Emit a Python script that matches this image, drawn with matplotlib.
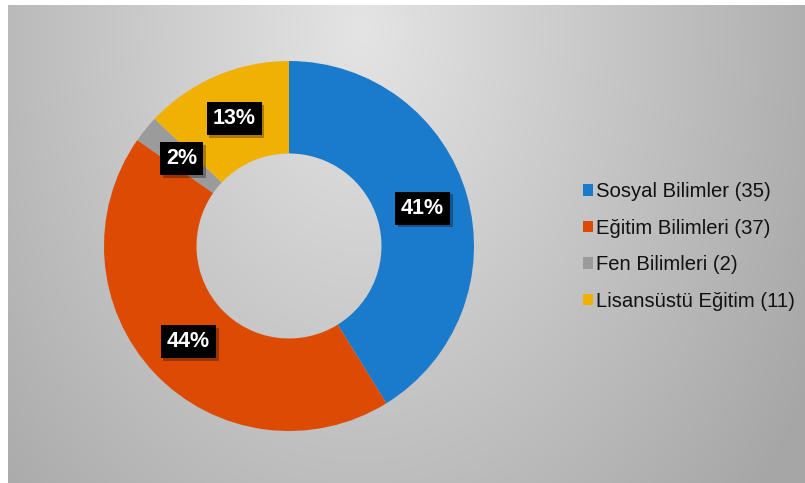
import numpy as np
import matplotlib
matplotlib.use("Agg")
import matplotlib.pyplot as plt
from matplotlib.patches import Patch
import matplotlib.patheffects as pe

plt.rcParams['font.family'] = ['Liberation Sans', 'DejaVu Sans']

categories = ["Sosyal Bilimler", "Eğitim Bilimleri", "Fen Bilimleri", "Lisansüstü Eğitim"]
counts = [35, 37, 2, 11]
colors = ["#1a7bcc", "#dc4a04", "#9b9b9b", "#f0b104"]

W, H = 805, 483
fig = plt.figure(figsize=(W / 100, H / 100), dpi=100)
fig.patch.set_facecolor("white")

# background gradient panel
bx0, by_top = 8, 5
bg = fig.add_axes([bx0 / W, 0, 1 - bx0 / W, 1 - by_top / H])
bg.set_axis_off()
xx, yy = np.meshgrid(np.arange(bx0, W), np.arange(by_top, H))
d = np.sqrt(((xx - 360) / 450.0) ** 2 + ((yy - 30) / 620.0) ** 2)
d = np.clip(d, 0, 1.15)
v = 0.895 - 0.21 * d
img = np.dstack([v, v, v])
bg.imshow(img, aspect="auto", extent=[0, 1, 0, 1], origin="upper")
bg.set_xlim(0, 1)
bg.set_ylim(0, 1)

# donut
cx, cy, R = 289, 246, 185
half = 200
ax = fig.add_axes([(cx - half) / W, (H - cy - half) / H, 2 * half / W, 2 * half / H])
ax.set_axis_off()
wedges, texts, autotexts = ax.pie(
    counts, colors=colors, startangle=90, counterclock=False,
    autopct='%.0f%%', pctdistance=0.75,
    wedgeprops=dict(width=0.5, edgecolor="none"),
    textprops=dict(color="white", fontsize=15.5, fontweight="bold"),
)
for t in autotexts:
    t.set_bbox(dict(boxstyle="square,pad=0.28", facecolor="black", edgecolor="none"))
    t.get_bbox_patch().set_path_effects([
        pe.SimplePatchShadow(offset=(2, -2), shadow_rgbFace="black", alpha=0.3),
        pe.Normal()])
lim = half / R
ax.set_xlim(-lim, lim)
ax.set_ylim(-lim, lim)

handles = [Patch(facecolor=c, edgecolor="none") for c in colors]
labels = [f"{n} ({c})" for n, c in zip(categories, counts)]
fig.legend(handles, labels, loc="center left", bbox_to_anchor=(573 / W, 1 - 246.5 / H),
           frameon=False, fontsize=14.6, handlelength=0.5, handleheight=0.5,
           handletextpad=0.15, labelspacing=0.86, borderpad=0, labelcolor="#111111")

fig.savefig("out.png", dpi=100)
